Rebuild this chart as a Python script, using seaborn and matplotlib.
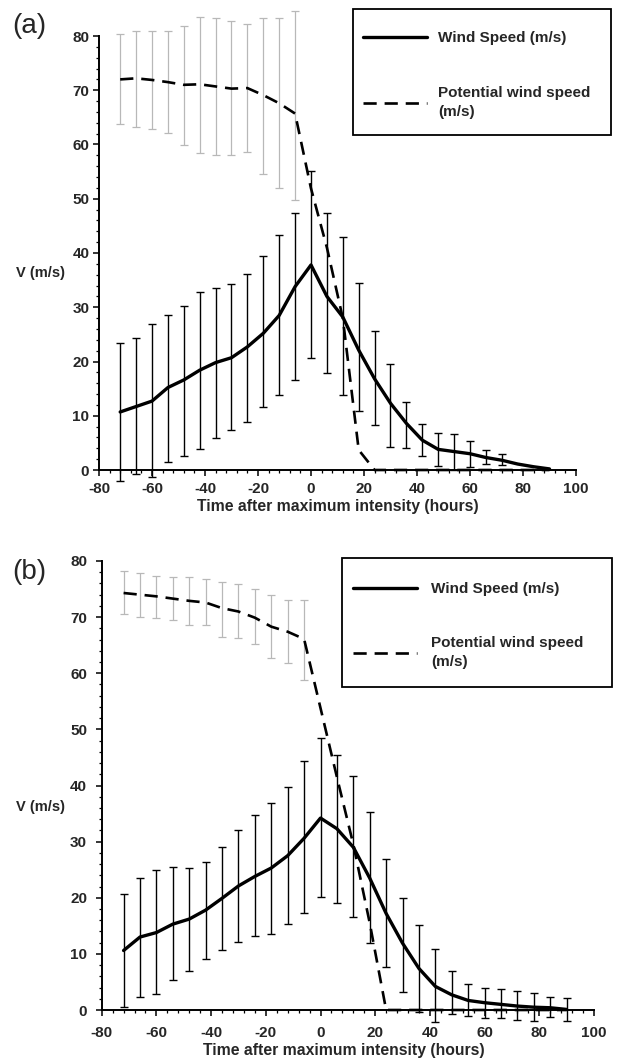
import numpy as np
import matplotlib
matplotlib.use("Agg")
import matplotlib.pyplot as plt
from matplotlib.ticker import MultipleLocator
from matplotlib.patches import Rectangle
import seaborn as sns

# ---------------- data ----------------
hours = list(range(-72, 91, 6))

# panel (a)
wind_a = [10.7, 11.7, 12.7, 15.2, 16.6, 18.4, 19.8, 20.7, 22.7, 25.2, 28.5, 33.8, 37.8,
          32.0, 28.2, 22.1, 16.8, 12.3, 8.6, 5.5, 3.8, 3.4, 3.0, 2.3, 1.8, 1.1, 0.6, 0.2]
wind_a_hi = [23.5, 24.4, 26.9, 28.5, 30.2, 32.9, 33.6, 34.2, 36.2, 39.5, 43.4, 47.3, 55.2,
             47.4, 43.0, 34.4, 25.7, 19.6, 12.6, 8.5, 6.9, 6.6, 5.4, 3.7, 3.0,
             np.nan, np.nan, np.nan]
wind_a_lo = [-2.0, -0.8, -1.2, 1.4, 2.6, 3.8, 5.9, 7.4, 8.8, 11.6, 13.8, 16.6, 20.6,
             17.9, 13.8, 10.9, 8.3, 4.3, 4.0, 2.6, 0.7, 0.0, 0.5, 1.1, 0.9,
             np.nan, np.nan, np.nan]
pot_a = [72.0, 72.2, 71.9, 71.5, 71.0, 71.1, 70.7, 70.3, 70.4, 69.1, 67.6, 65.7, 51.9,
         41.0, 28.0, 3.7, 0, 0, 0, 0, 0, 0, 0, 0, 0, 0, 0, 0]
pot_a_hi = [80.4, 81.0, 81.0, 81.0, 81.9, 83.5, 83.4, 82.8, 82.3, 83.4, 83.4, 84.7]
pot_a_lo = [63.8, 63.3, 62.8, 62.1, 59.9, 58.4, 58.0, 58.0, 58.7, 54.6, 51.9, 49.7]

# panel (b)
wind_b = [10.6, 13.0, 13.8, 15.3, 16.2, 17.8, 19.9, 22.1, 23.8, 25.3, 27.5, 30.6, 34.2,
          32.3, 29.0, 23.5, 17.2, 11.9, 7.4, 4.2, 2.7, 1.7, 1.3, 1.0, 0.7, 0.5, 0.4, 0.1]
wind_b_hi = [20.7, 23.5, 25.0, 25.4, 25.3, 26.3, 29.1, 32.1, 34.8, 36.8, 39.8, 44.4, 48.4,
             45.5, 41.7, 35.2, 26.9, 19.9, 15.2, 10.9, 7.0, 4.6, 4.0, 3.8, 3.4, 3.1, 2.3, 2.1]
wind_b_lo = [0.6, 2.3, 2.8, 5.3, 7.0, 9.1, 10.7, 12.1, 13.2, 13.5, 15.4, 17.2, 20.1,
             19.0, 16.5, 12.0, 7.7, 3.2, -0.3, -2.1, -0.8, -1.0, -1.4, -1.5, -1.8, -1.9, -1.2, -1.9]
pot_b = [74.3, 74.0, 73.7, 73.3, 72.9, 72.6, 71.6, 71.0, 69.9, 68.3, 67.4, 66.1, 53.8,
         41.5, 29.5, 15.5, 0, 0, 0, 0, 0, 0, 0, 0, 0, 0, 0, 0]
pot_b_hi = [78.3, 77.8, 77.4, 77.2, 77.2, 76.8, 76.3, 75.9, 75.0, 74.0, 73.0, 73.1]
pot_b_lo = [70.5, 70.0, 69.8, 69.5, 68.6, 68.6, 66.5, 66.2, 65.2, 62.8, 61.8, 58.8]

x_ticks = [-80, -60, -40, -20, 0, 20, 40, 60, 80, 100]
y_ticks = [0, 10, 20, 30, 40, 50, 60, 70, 80]
xlabel = "Time after maximum intensity (hours)"
ylabel = "V (m/s)"
labels = ["Wind Speed (m/s)", "Potential wind speed\n(m/s)"]

# ---------------- style ----------------
sns.set_style("ticks")
plt.rcParams['font.family'] = ['Liberation Sans', 'DejaVu Sans']
plt.rcParams['axes.unicode_minus'] = False

W, H = 621, 1063
fig = plt.figure(figsize=(W / 100, H / 100), dpi=100)


def fx(px):
    return px / W


def fy(py):
    return 1 - py / H


def errbars(ax, x, mean, hi, lo, color, lw, cap, z):
    x = np.asarray(x, float)
    mean = np.asarray(mean, float)
    hi = np.asarray(hi, float)
    lo = np.asarray(lo, float)
    m = ~np.isnan(hi)
    eb = ax.errorbar(x[m], mean[m], yerr=[mean[m] - lo[m], hi[m] - mean[m]], fmt='none',
                     ecolor=color, elinewidth=lw, capsize=cap, capthick=lw, zorder=z)
    for a in list(eb[1]) + list(eb[2]):
        a.set_clip_on(False)


def panel(ax, wind, whi, wlo, pot, phi, plo, xpad, ypad):
    n = len(phi)
    errbars(ax, hours[:n], pot[:n], phi, plo, '#b8b8b8', 0.9, 3.2, 1)
    errbars(ax, hours, wind, whi, wlo, 'black', 1.0, 3.2, 2)
    sns.lineplot(x=hours, y=wind, ax=ax, color='black', lw=2.4, label=labels[0],
                 clip_on=False, zorder=4)
    sns.lineplot(x=hours, y=pot, ax=ax, color='black', lw=1.9, label=labels[1],
                 linestyle=(0, (5.0, 3.0)), clip_on=False, zorder=3)
    ax.set_xlim(-80, 100)
    ax.set_ylim(0, 80)
    ax.set_xticks(x_ticks)
    ax.set_yticks(y_ticks)
    ax.xaxis.set_minor_locator(MultipleLocator(4))
    ax.yaxis.set_minor_locator(MultipleLocator(2))
    ax.tick_params(which='major', length=4.5, width=1.1, labelsize=11, color='black')
    ax.tick_params(axis='x', which='major', pad=xpad)
    ax.tick_params(axis='y', which='major', pad=ypad)
    ax.tick_params(which='minor', length=2.5, width=0.9, color='black')
    for lab in ax.get_xticklabels() + ax.get_yticklabels():
        lab.set_fontweight('bold')
    sns.despine(ax=ax)
    for s in ['left', 'bottom']:
        ax.spines[s].set_linewidth(1.4)
        ax.spines[s].set_color('black')
    ax.set_xlabel("")
    ax.set_ylabel("")
    ax.get_legend().remove()


# panel (a)
ax1 = fig.add_axes([fx(99), fy(470), fx(576 - 99), (470 - 36) / H])
panel(ax1, wind_a, wind_a_hi, wind_a_lo, pot_a, pot_a_hi, pot_a_lo, 4, 2.5)
# panel (b)
ax2 = fig.add_axes([fx(101.7), fy(1010), fx(594 - 101.7), (1010 - 561) / H])
panel(ax2, wind_b, wind_b_hi, wind_b_lo, pot_b, pot_b_hi, pot_b_lo, 7, 6)

# labels
for ax, ylab_y, xlab_y, xc, tag_y, tag in [(ax1, 273, 506, 338, 26, "(a)"),
                                            (ax2, 807, 1050, 344, 572, "(b)")]:
    fig.text(fx(16), fy(ylab_y), ylabel, fontsize=10.5, fontweight='bold',
             ha='left', va='center')
    fig.text(fx(xc), fy(xlab_y), xlabel, fontsize=11.3, fontweight='bold',
             ha='center', va='center')
    fig.text(fx(12), fy(tag_y), tag, fontsize=20, ha='left', va='center')

# legends: frame box + frameless legend (figure-level so it sits above the box)
for ax, box, hx, htp, row_top, lsp in [(ax1, (352.7, 9, 611, 135), 363, 0.72, 31, 2.7),
                                       (ax2, (341.7, 558, 612, 687), 353, 0.9, 582, 2.65)]:
    x0, y0, x1, y1 = box
    fig.add_artist(Rectangle((fx(x0), fy(y1)), fx(x1 - x0), (y1 - y0) / H,
                             transform=fig.transFigure, facecolor='white',
                             edgecolor='black', linewidth=1.3, zorder=5))
    h, l = ax.get_legend_handles_labels()
    leg = fig.legend(h, l, loc='upper left',
                     bbox_to_anchor=(fx(hx), fy(row_top)),
                     bbox_transform=fig.transFigure, borderaxespad=0, borderpad=0,
                     frameon=False, prop={'weight': 'bold', 'size': 11},
                     handlelength=4.2, handletextpad=htp, labelspacing=lsp)
    leg.set_zorder(6)
    for t in leg.get_texts():
        t.set_linespacing(1.45)

fig.savefig("out.png", dpi=100)
